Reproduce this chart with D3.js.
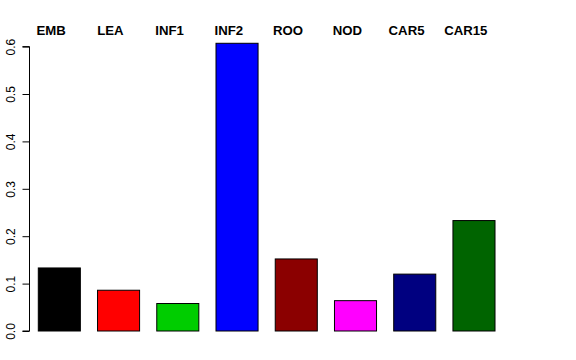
<!DOCTYPE html>
<html><head><meta charset="utf-8">
<script src="https://cdn.jsdelivr.net/npm/d3@7"></script>
<style>body{margin:0;background:#fff}svg{display:block}</style>
</head><body>
<script>
const categories = ["EMB","LEA","INF1","INF2","ROO","NOD","CAR5","CAR15"];
const values = [0.133, 0.086, 0.058, 0.607, 0.152, 0.064, 0.120, 0.233];
const colors = ["#000000","#FF0000","#00CD00","#0000FF","#8B0000","#FF00FF","#000080","#006400"];
const yTicks = [0, 0.1, 0.2, 0.3, 0.4, 0.5, 0.6];

const W = 576, H = 360;
const svg = d3.select("body").append("svg").attr("width", W).attr("height", H);

const x = d3.scaleBand().domain(categories).range([30, 503.3]).paddingInner(0.29).paddingOuter(0.14);
const y = d3.scaleLinear().domain([0, 0.6]).range([331, 46.6]);

svg.selectAll("rect.bar").data(categories).enter().append("rect")
  .attr("x", d => x(d))
  .attr("y", (d,i) => y(values[i]))
  .attr("width", x.bandwidth())
  .attr("height", (d,i) => y(0) - y(values[i]))
  .attr("fill", (d,i) => colors[i])
  .attr("stroke", "#000").attr("stroke-width", 1);

const axis = d3.axisLeft(y).tickValues(yTicks).tickSize(7).tickFormat(d3.format(".1f"));
const g = svg.append("g").attr("transform", "translate(29.5,0)").call(axis);
g.select(".domain").attr("d", `M-7,${y(0)}H0V${y(0.6)}H-7`).attr("stroke","#000");
g.selectAll(".tick line").attr("stroke","#000");
g.selectAll(".tick text")
  .attr("font-family","Liberation Sans, Arial, sans-serif").attr("font-size", 12)
  .attr("fill","#000")
  .attr("x", null).attr("dy", null)
  .attr("text-anchor","middle")
  .attr("transform","translate(-15,0) rotate(-90)");

svg.selectAll("text.lab").data(categories).enter().append("text")
  .attr("x", d => x(d) + x.bandwidth()/2 - 8.2)
  .attr("y", 34.5)
  .attr("text-anchor","middle")
  .attr("font-family","Liberation Sans, Arial, sans-serif")
  .attr("font-weight","bold").attr("font-size", 13.2)
  .text(d => d);
</script>
</body></html>
